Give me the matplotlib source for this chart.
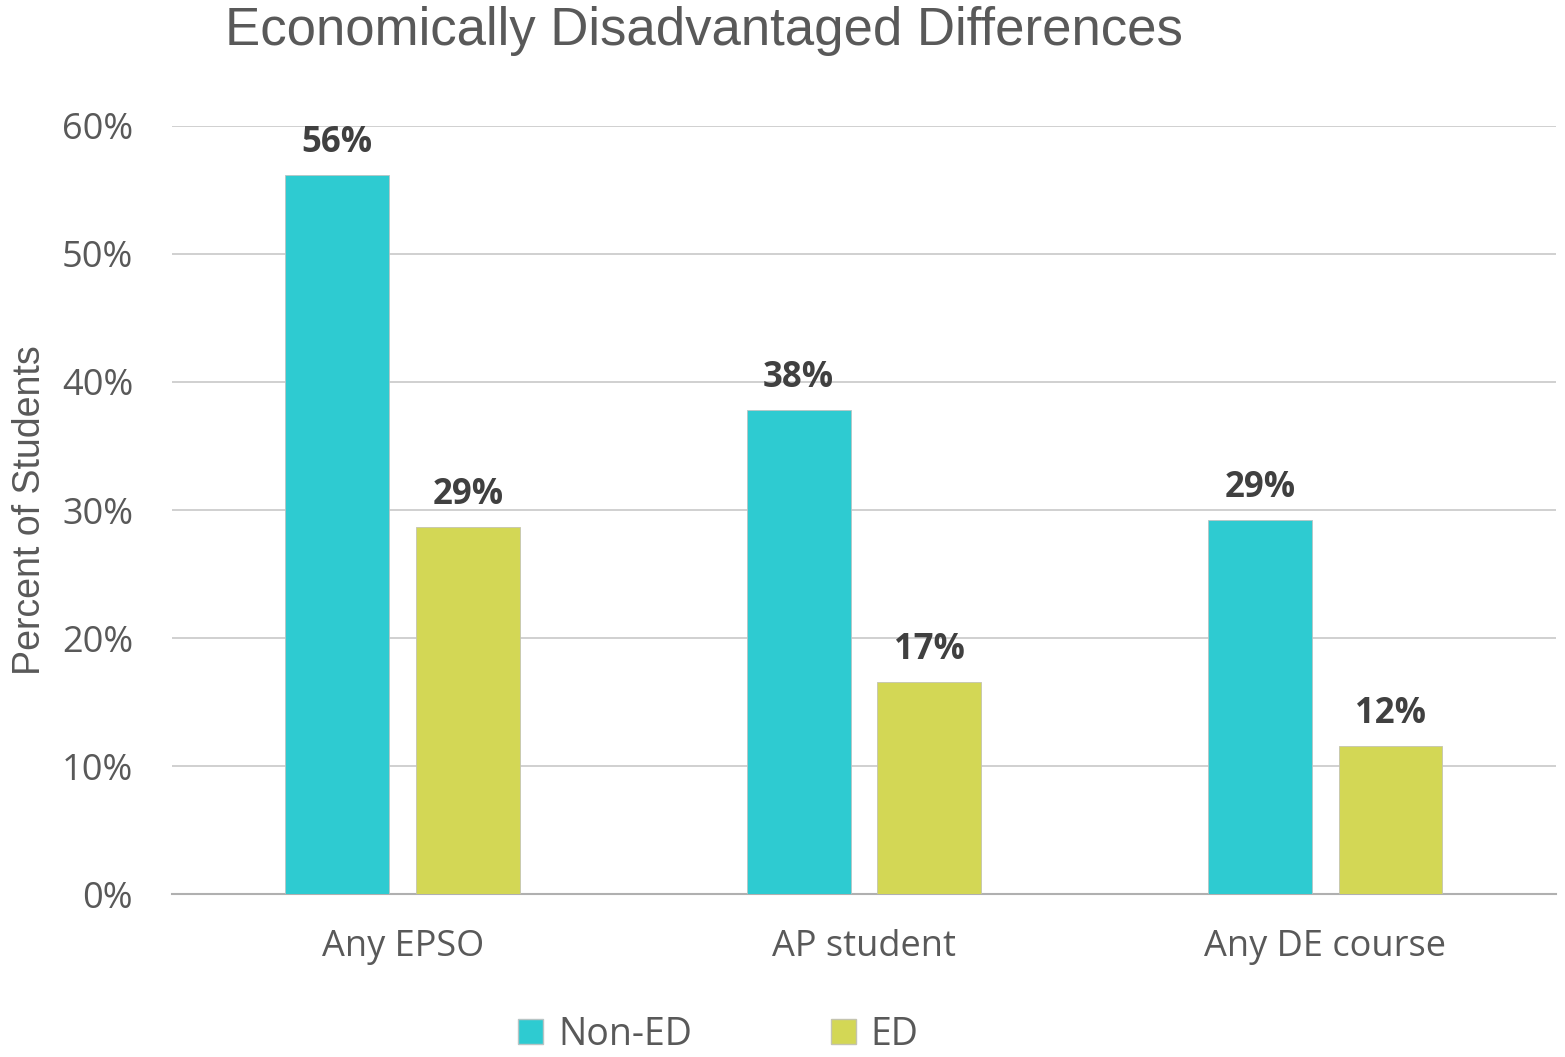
import numpy as np
import matplotlib
matplotlib.use("Agg")
import matplotlib.pyplot as plt
from matplotlib.patches import Patch

categories = ["Any EPSO", "AP student", "Any DE course"]
non_ed = [56.2, 37.8, 29.2]
ed = [28.7, 16.6, 11.6]
series_names = ["Non-ED", "ED"]
yticks = [0, 10, 20, 30, 40, 50, 60]

c_non = "#2ECBD1"
c_ed = "#D3D755"
txt = "#595959"

fig = plt.figure(figsize=(15.65, 10.57), dpi=100)
ax = fig.add_axes([0.1099, 0.1542, 0.8843, 0.7266])

x = np.arange(len(categories))
w = 0.225
off = 0.1415
b1 = ax.bar(x - off, non_ed, w, color=c_non, edgecolor="#b8c4c4", linewidth=0.6, zorder=3)
b2 = ax.bar(x + off, ed, w, color=c_ed, edgecolor="#c4c4b0", linewidth=0.6, zorder=3)

for bars, vals in [(b1, non_ed), (b2, ed)]:
    for b, v in zip(bars, vals):
        ax.annotate(f"{round(v)}%", (b.get_x() + b.get_width() / 2, v),
                    xytext=(0, 10), textcoords="offset points", ha="center", va="bottom",
                    fontsize=25, fontweight="bold", color="#404040", family="Open Sans")

ax.set_xlim(-0.5, 2.5)
ax.set_ylim(0, 60)
ax.set_yticks(yticks)
ax.set_yticklabels([f"{t}%" for t in yticks], fontsize=26, color=txt, family="Open Sans")
ax.set_xticks(x)
ax.set_xticklabels(categories, fontsize=26, color=txt, family="Open Sans")
ax.tick_params(axis="y", length=0, pad=28)
ax.tick_params(axis="x", length=0, pad=25)
ax.grid(axis="y", color="#d0d0d0", linewidth=1.4, zorder=0)
for s in ["top", "right", "left"]:
    ax.spines[s].set_visible(False)
ax.spines["bottom"].set_color("#b0b0b0")
ax.spines["bottom"].set_linewidth(1.5)

ax.set_ylabel("Percent of Students", fontsize=27, color=txt, family="Liberation Sans")
ax.yaxis.set_label_coords(-0.0896, 0.5)

fig.text(0.45, 0.971, "Economically Disadvantaged Differences", ha="center", va="center",
         fontsize=38, color=txt, family="Liberation Sans")

handles = [Patch(facecolor=c_non, edgecolor="#b8c4c4"), Patch(facecolor=c_ed, edgecolor="#c4c4b0")]
fig.legend(handles, series_names, loc="center", bbox_to_anchor=(0.459, 0.021), ncol=2,
           frameon=False, prop={"family": "Open Sans", "size": 27}, labelcolor=txt,
           handlelength=0.67, handleheight=0.67, handletextpad=0.4, columnspacing=3.7,
           borderpad=0.1)

fig.savefig("out.png", dpi=100)
